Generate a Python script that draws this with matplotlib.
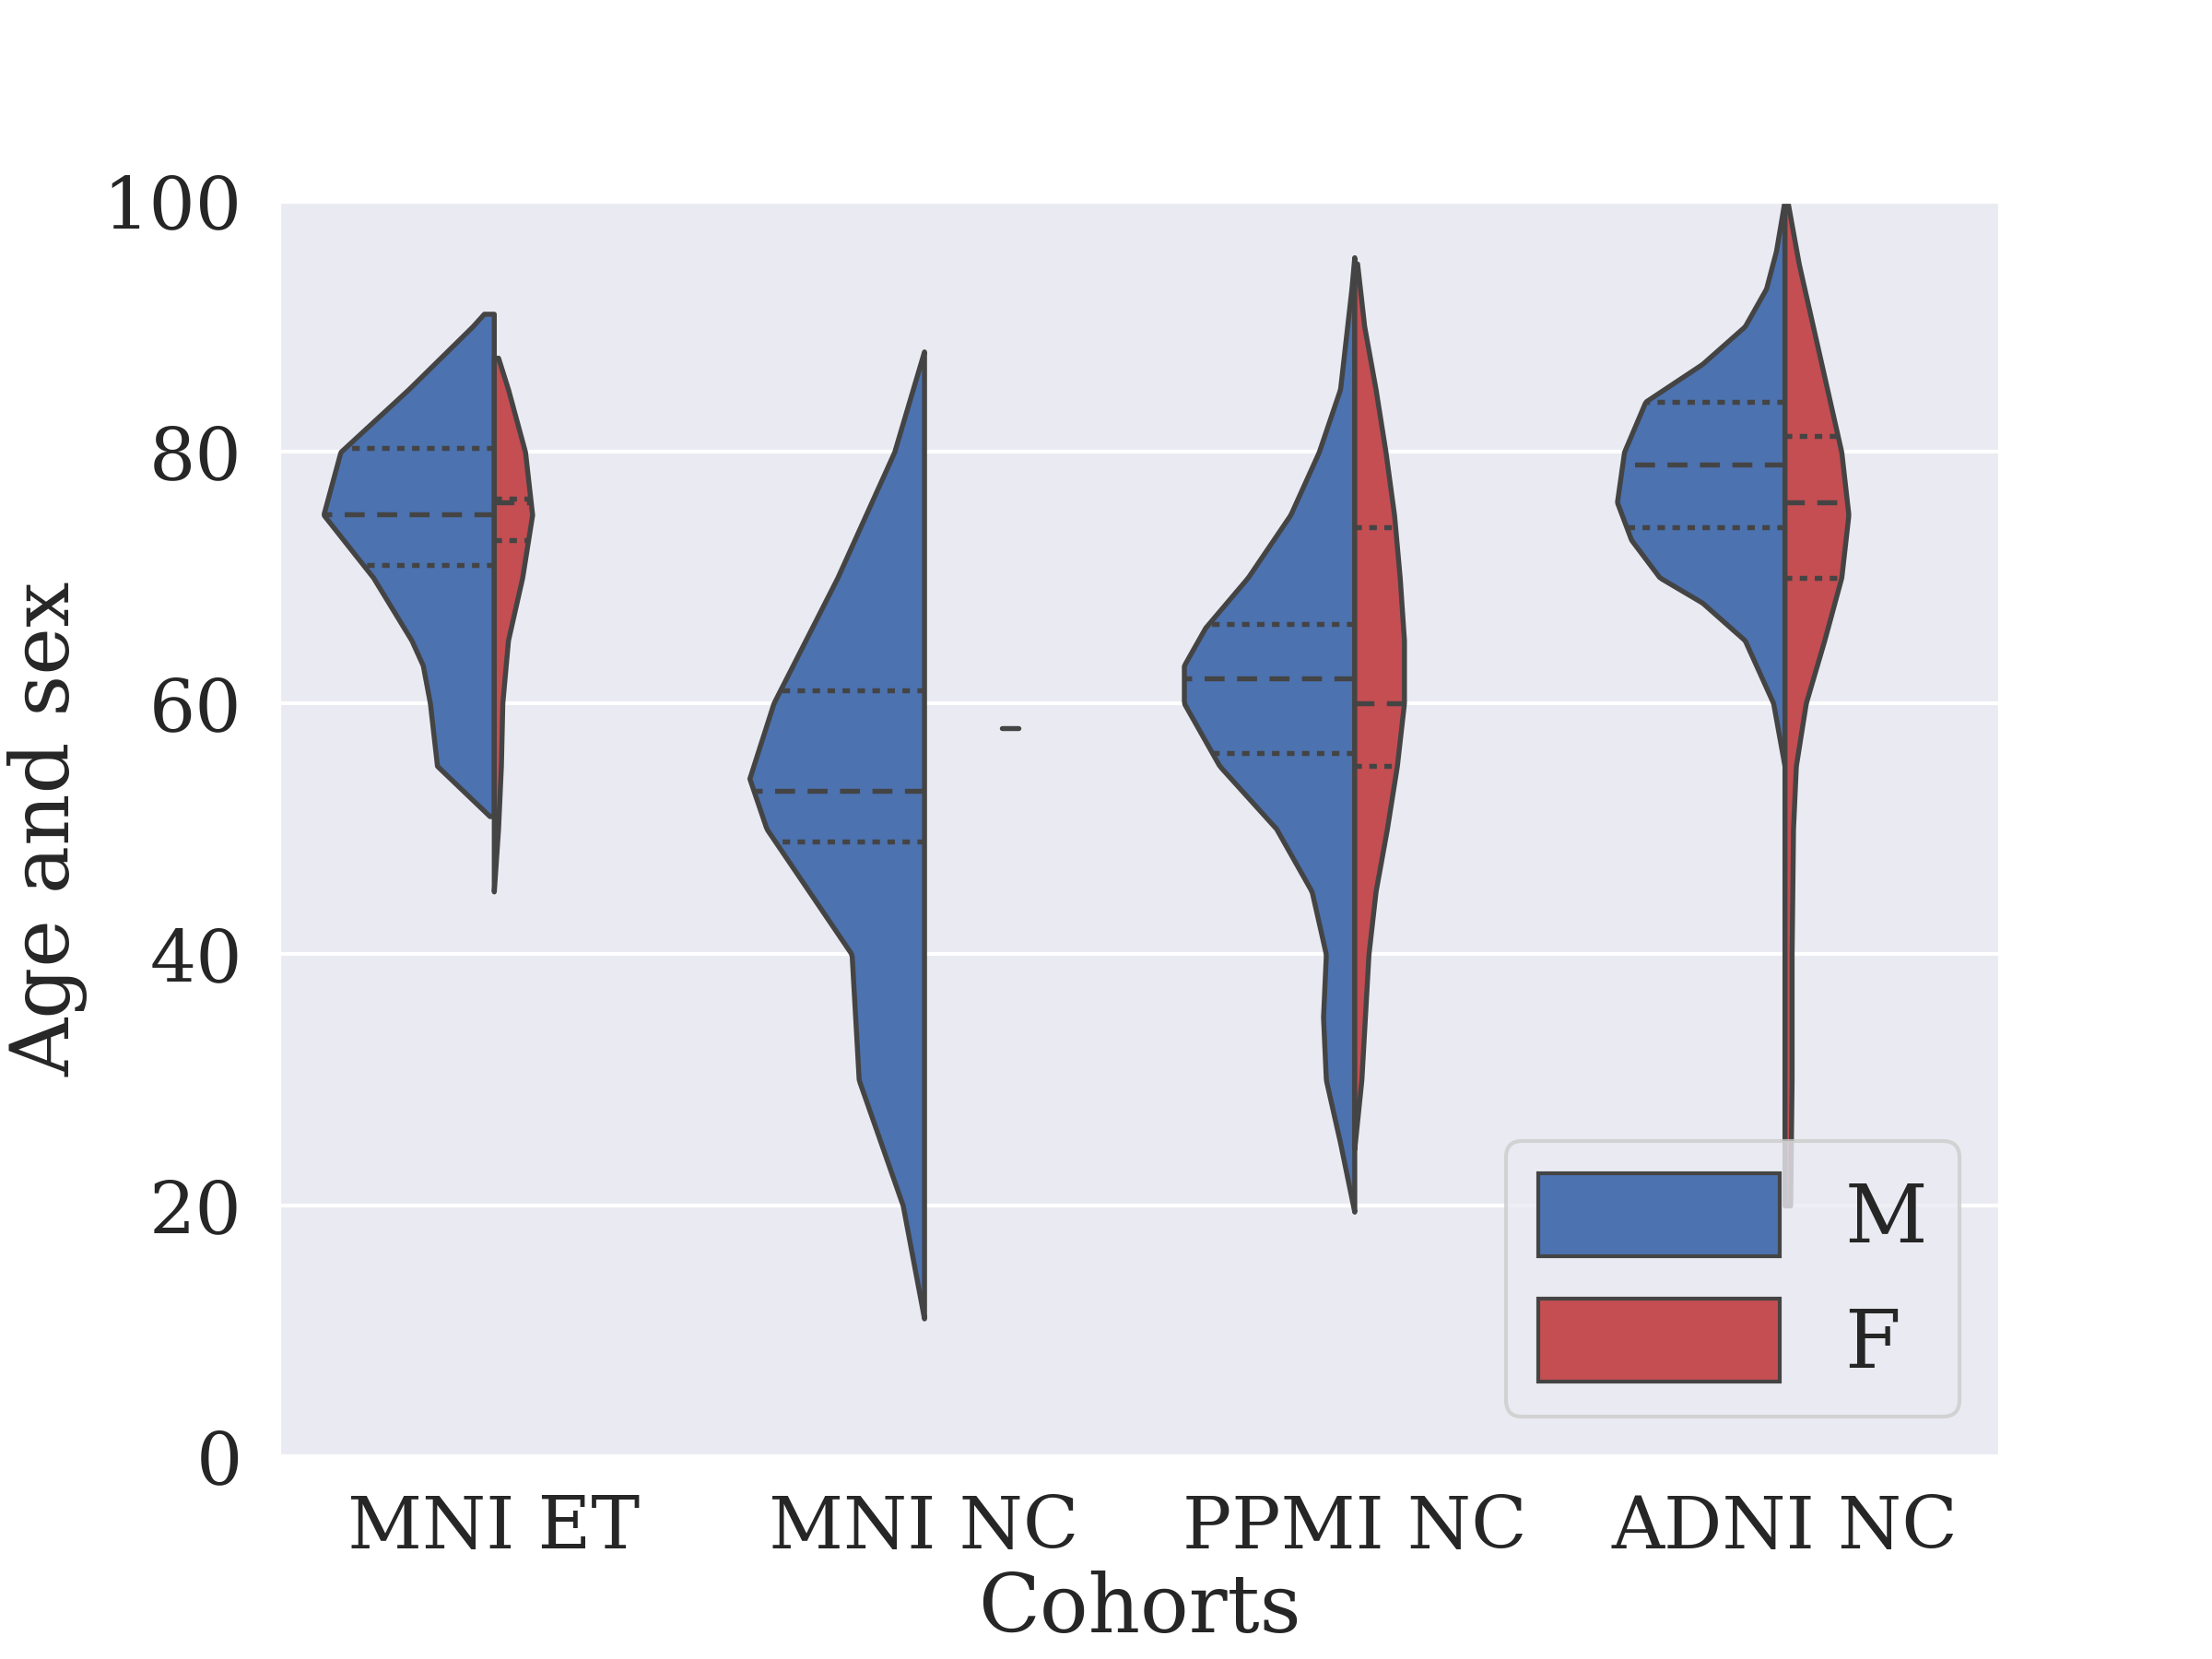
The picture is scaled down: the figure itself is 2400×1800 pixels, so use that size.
import numpy as np
import matplotlib.pyplot as plt
import seaborn as sns
from matplotlib.patches import Patch

sns.set_theme(style="darkgrid")
plt.rcParams["font.family"] = "DejaVu Serif"

cohorts = ["MNI ET", "MNI NC", "PPMI NC", "ADNI NC"]
male_color = "#4c72b0"
female_color = "#c44e52"
edge = "#444444"

# density profiles: (age levels, half width in px / 303)
male_y = [
    [51, 55, 60, 63, 65, 70, 75, 80, 85, 90, 91],
    [11, 20, 30, 40, 45, 50, 54, 60, 70, 80, 88],
    [19.5, 25, 30, 35, 40, 45, 50, 55, 60, 63, 66, 70, 75, 80, 85, 93, 95.5],
    [55, 60, 65, 68, 70, 73, 76, 80, 84, 87, 90, 93, 96, 100],
]
male_w = [
    [3, 40, 45, 50, 58, 85, 120, 108, 60, 15, 7],
    [0, 15, 46, 51, 81, 111, 123, 106, 61, 21, 0],
    [0, 10, 20, 22, 20, 30, 55, 95, 120, 120, 105, 75, 45, 25, 10, 2, 0],
    [0, 8, 28, 58, 88, 108, 118, 113, 98, 58, 28, 13, 6, 0],
]
female_y = [
    [45, 50, 55, 60, 65, 70, 75, 80, 85, 87.5],
    None,
    [24.5, 30, 40, 45, 50, 55, 60, 65, 70, 75, 80, 85, 90, 95],
    [20, 30, 40, 50, 55, 60, 65, 70, 75, 80, 85, 90, 95, 100],
]
female_w = [
    [0, 3, 5, 6, 10, 20, 27, 22, 10, 3],
    None,
    [0, 5, 10, 15, 23, 30, 35, 35, 32, 28, 22, 15, 7, 2],
    [4, 5, 5, 6, 8, 15, 28, 40, 45, 40, 30, 20, 10, 2],
]
male_quart = [[71, 75, 80.3], [49, 53, 61], [56, 62, 66.3], [74, 79, 84]]
female_quart = [[73, 76, 76.3], [58, 58, 58], [55, 60, 74], [70, 76, 81.3]]

fig, ax = plt.subplots(figsize=(8, 6), dpi=300)


def draw_half(pos, ys, ws, quart, side, color):
    ys = np.array(ys, float)
    ws = np.array(ws, float) / 303.0
    yy = np.linspace(ys[0], ys[-1], 300)
    ww = np.interp(yy, ys, ws)
    if side < 0:
        ax.fill_betweenx(yy, pos - ww, pos, facecolor=color, edgecolor=edge, lw=1.3, zorder=2)
    else:
        ax.fill_betweenx(yy, pos, pos + ww, facecolor=color, edgecolor=edge, lw=1.3, zorder=2)
    for q, ls in zip(quart, [(0, (1.5, 1.5)), (0, (4, 2.5)), (0, (1.5, 1.5))]):
        w = np.interp(q, ys, ws)
        ax.plot([pos, pos + side * w], [q, q], color=edge, lw=1.3, ls=ls, zorder=3)


for i in range(len(cohorts)):
    draw_half(i, male_y[i], male_w[i], male_quart[i], -1, male_color)
    if female_y[i] is not None:
        draw_half(i, female_y[i], female_w[i], female_quart[i], 1, female_color)
    else:
        ax.plot([i + 0.18, i + 0.22], [female_quart[i][1]] * 2, color=edge, lw=1.3, zorder=3)

ax.set_xlim(-0.5, 3.5)
ax.set_ylim(0, 100)
ax.set_xticks(range(len(cohorts)))
ax.set_xticklabels(cohorts)
ax.tick_params(labelsize=19)
ax.set_xlabel("Cohorts", fontsize=21, labelpad=2)
ax.set_ylabel("Age and sex", fontsize=21)
ax.grid(axis="x", visible=False)
handles = [Patch(facecolor=male_color, edgecolor=edge, label="M"),
           Patch(facecolor=female_color, edgecolor=edge, label="F")]
ax.legend(handles=handles, loc="lower right", fontsize=21, handlelength=3, handleheight=1.2)
fig.subplots_adjust(left=0.126, right=0.904, bottom=0.122, top=0.879)
fig.savefig("out.png")
